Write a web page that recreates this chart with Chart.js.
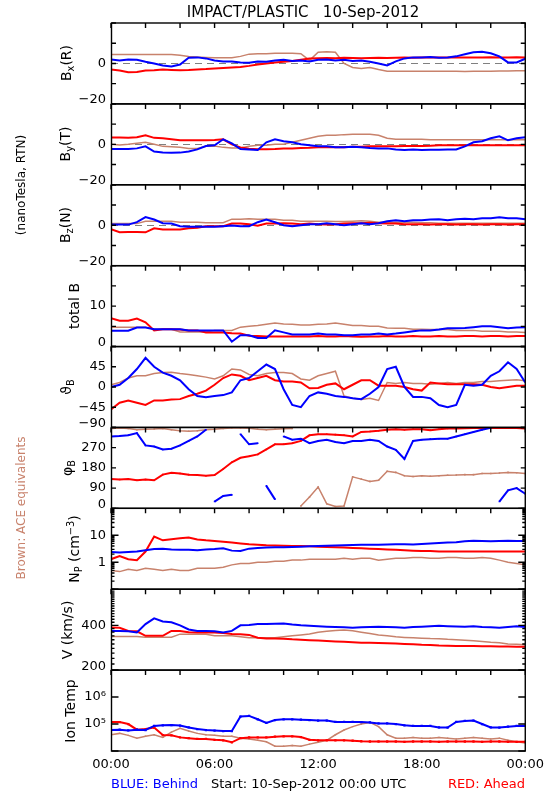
<!DOCTYPE html>
<html><head><meta charset="utf-8">
<script src="https://cdn.jsdelivr.net/npm/chart.js@4.4.1/dist/chart.umd.min.js"></script>
<style>
html,body{margin:0;padding:0;background:#fff;}
#wrap{position:relative;width:550px;height:800px;overflow:hidden;font-family:"DejaVu Sans",sans-serif;color:#000;}
canvas{position:absolute;left:0;top:0;}
.t{position:absolute;white-space:nowrap;line-height:1;}
.rot{transform:translate(-50%,-50%) rotate(-90deg);}
sub{font-size:70%;vertical-align:-0.3em;line-height:0;}
sup{font-size:70%;vertical-align:0.55em;line-height:0;}
</style></head><body>
<div id="wrap"><canvas id="c" width="550" height="800"></canvas></div>
<script>
// ---------------- DATA ----------------
const hours = [0,0.5,1,1.5,2,2.5,3,3.5,4,4.5,5,5.5,6,6.5,7,7.5,8,8.5,9,9.5,10,10.5,11,11.5,
  12,12.5,13,13.5,14,14.5,15,15.5,16,16.5,17,17.5,18,18.5,19,19.5,20,20.5,21,21.5,22,22.5,23,23.5,24];

const xTickHours = [0,2,4,6,8,10,12,14,16,18,20,22,24];
const xLabelHours = [0,6,12,18,24];
const xLabelText = ['00:00','06:00','12:00','18:00','00:00'];

// Bx (R)
const bxBlue = [2,1.5,2,1.8,0.8,0,-1,-1.5,-0.5,2.8,3,2.5,
  1.5,1,1,0.5,0.3,1,0.8,1.5,1.8,1.2,1.5,1,
  1.8,2,1.5,1.8,1.2,1.5,0.8,0,-1,1,2.5,3,
  3,3.2,2.8,3,3.5,4.5,5.5,5.8,5,3.5,0.5,0.5, 2.3];
const bxRed = [-3,-3.5,-4.3,-4.2,-3.5,-3.4,-3,-3.2,-3.4,-3.3,-3,-2.8,
  -2.5,-2.2,-2,-1.8,-1.2,-0.5,0,0.5,0.8,1.2,1.8,2.4,
  2.6,2.7,2.6,2.8,2.7,2.6,2.7,2.8,2.7,2.8,2.9,2.8,
  2.9,3,2.9,3,3,2.9,3,3,3.1,3,3,3.1, 3];
const bxBrown = [4.4,4.4,4.4,4.4,4.4,4.4,4.4,4.4,4,3.4,3.2,3,
  2.8,2.8,2.8,3.5,4.6,4.8,4.8,5,5,5,4.8,1.5,
  5.5,5.8,5.5,0,-2,-2.5,-2,-3,-3.8,-3.9,-3.9,-3.8,
  -3.9,-3.9,-3.8,-3.9,-3.9,-4,-3.9,-3.9,-3.8,-3.7,-3.7,-3.6, -3.6];

// By (T)
const byBlue = [-2.3,-2.3,-2.3,-2,-1,-3.6,-4,-4.2,-4.1,-3.5,-2.5,-0.8,
  -0.5,2.5,0.5,-2.3,-2.5,-2.8,1,2.5,1.5,1,0,-0.5,
  -1,-1,-1.5,-1.5,-1.2,-1.5,-1.8,-2,-2,-2.5,-2.8,-2.5,
  -2.8,-2.7,-2.7,-2.5,-2.5,-1,1,1.5,3,4,2,3, 3.5];
const byRed = [3.4,3.4,3.3,3.5,4.5,3.2,3,2.5,2,2,2,2,
  2.2,2.5,0,-1.5,-2.2,-2.4,-2.4,-2.3,-2,-2,-1.8,-1.7,
  -1.5,-1.5,-1.5,-1.4,-1.2,-1.2,-1,-1,-1,-1,-0.8,-0.8,
  -0.8,-0.7,-0.5,-0.5,-0.5,-0.5,-0.5,-0.5,-0.5,-0.5,-0.5,-0.5, -0.5];
const byBrown = [0,-0.3,0,0.5,1,0,-1,-1.2,-1.5,-2,-2,-1,
  -0.8,-1.5,-1.8,-1.8,-1,-0.5,-0.5,0,0,1,2,3,
  4,4.5,4.5,4.8,5,5,5,4.5,3,2.5,2.5,2.5,
  2.5,2.3,2.3,2.3,2.3,2.3,2.3,2.3,2.3,2.3,2.3,2.3, 2.3];

// Bz (N)
const bzBlue = [0.3,0.3,0.3,1.5,4,2.8,1,0.8,-0.5,-0.8,-0.8,-0.8,
  -0.8,-0.5,-0.2,-0.5,-0.5,1.5,2.8,1.5,0,-0.5,0,0.5,
  0.5,1,0.5,0,0.5,1,0.5,1,2,2.5,2,2.5,
  2.5,2.8,3,2.5,3,3.2,3,3.5,3.5,4,3.5,3.5, 3];
const bzRed = [-2,-3.5,-3.3,-3.3,-3.5,-1.5,-2.1,-2.1,-2.1,-1.5,-1.3,-0.5,
  -0.5,-0.5,0.8,0.8,0.5,-0.2,0.8,0.8,1,0.8,0.5,0.8,
  0.5,0.3,0.5,0.8,1,1,1.2,1,0.8,0.8,0.5,0.5,
  0.5,0.3,0.5,0.5,0.3,0.5,0.5,0.3,0.5,0.5,0.3,0.5, 0.5];
const bzBrown = [0.8,0.8,0.8,0.8,2,2,2,2,1.5,1.5,1.5,1.2,
  1.2,1.2,3,3,3.2,3,3,3,2.5,2.5,2,2,
  2,2,1.8,1.8,2,2.2,2,1.5,1.5,1.5,1.5,1.5,
  1.2,1.2,1,1,1,1,1,1,1,1,1,1, 1];

// total B
const btBlue = [3.9,3.9,3.9,4.7,4.7,4.3,4.3,4.3,4.3,4,4,4,
  4,4,1.2,2.8,2.8,2.1,2.1,4,3.5,3,3,3,
  3.2,3,3,2.8,2.8,3,3,3.2,3,3.2,3.5,3.8,
  4,4,4.2,4.5,4.5,4.6,4.8,5,5,4.8,4.5,4.7, 4.8];
const btRed = [7,6.4,6.4,6.9,6,4,4.3,4.3,4.2,4,4,3.5,
  3.5,3.5,3.3,3.2,2.7,2.6,2.5,2.5,2.5,2.5,2.5,2.5,
  2.6,2.5,2.5,2.6,2.5,2.4,2.5,2.5,2.6,2.5,2.5,2.6,
  2.5,2.5,2.6,2.5,2.5,2.6,2.6,2.5,2.6,2.6,2.5,2.6, 2.6];
const btBrown = [4.8,4.8,4.8,4.8,4.8,4.3,4.3,4.3,3.6,3.6,3.6,3.6,
  4,4,4,4.8,5,5.2,5.5,5.8,5.6,5.5,5.3,5.3,
  5.5,5.6,5.8,5.5,5.2,5.2,5,5,4.6,4.5,4.5,4.3,
  4.3,4.2,4.2,4.2,4,4,4,3.8,3.8,3.8,3.6,3.6, 3.5];

// theta B
const thBlue = [0,5,20,40,65,45,32,25,15,-5,-20,-23,
  -20,-18,-12,15,20,35,50,40,-5,-40,-45,-20,
  -12,-15,-20,-22,-25,-27,-15,0,40,45,0,-22,
  -22,-25,-40,-45,-40,5,3,5,25,35,55,40, 10];
const thRed = [-50,-35,-30,-35,-40,-30,-30,-28,-27,-20,-15,-8,
  5,20,28,25,15,20,25,15,12,12,10,-3,
  -2,5,8,-5,5,15,15,3,3,3,0,-5,
  -8,10,8,6,6,6,6,5,0,-3,0,3, 3];
const thBrown = [5,10,20,25,25,30,32,33,30,28,25,22,
  18,25,40,38,28,25,30,32,32,30,18,15,
  25,30,35,-20,-25,-28,-25,-30,10,8,10,8,
  8,6,8,10,8,10,10,12,12,14,15,16, 14];

// phi B
const phBlue = [320,322,325,335,280,275,262,265,280,300,320,350,
  30,55,60,330,285,290,100,40,320,305,310,290,
  300,305,295,290,300,300,305,300,275,260,220,300,
  305,308,310,310,320,330,340,350,358,30,80,90, 65];
const phRed = [130,128,130,125,128,125,150,158,155,150,148,145,
  148,175,205,225,232,240,262,285,285,290,300,325,
  330,330,328,325,320,340,342,345,350,352,350,352,
  352,348,352,355,355,356,357,357,358,358,358,358, 355];
const phBrown = [355,357,355,350,352,353,355,350,345,343,345,350,
  352,355,358,358,356,352,350,352,354,355,10,50,
  95,20,8,10,140,130,120,125,165,160,145,142,
  145,143,145,147,148,150,150,155,155,157,160,158, 155];

// N_P (cm^-3)
const npBlue = [2.4,2.3,2.4,2.5,2.8,3.1,3.2,3.0,2.9,2.9,2.8,3.0,
  3.1,3.3,2.7,2.6,3.2,3.4,3.5,3.6,3.6,3.7,3.8,3.9,
  4.0,4.1,4.2,4.3,4.4,4.5,4.5,4.5,4.6,4.7,4.7,4.6,
  4.8,5.0,5.2,5.4,5.5,6.0,6.3,6.2,6.0,6.1,6.3,6.2, 6.2];
const npRed = [1.3,1.7,1.3,1.2,2.5,9.0,6.5,7.2,7.8,8.3,7.0,6.5,
  6.2,5.8,5.4,5.0,4.7,4.5,4.3,4.2,4.1,4.0,4.0,3.9,
  3.8,3.7,3.6,3.5,3.4,3.3,3.2,3.1,3.0,2.9,2.8,2.7,
  2.6,2.6,2.5,2.5,2.5,2.5,2.5,2.5,2.5,2.5,2.5,2.5, 2.5];
const npBrown = [0.5,0.45,0.55,0.5,0.6,0.55,0.5,0.55,0.5,0.5,0.6,0.6,
  0.6,0.65,0.8,0.9,0.9,1.0,1.0,1.1,1.1,1.2,1.2,1.3,
  1.3,1.3,1.3,1.4,1.3,1.4,1.4,1.2,1.3,1.4,1.4,1.5,
  1.5,1.4,1.4,1.5,1.5,1.4,1.4,1.5,1.4,1.2,1.0,0.9, 0.8];

// V (km/s)
const vBlue = [367,367,365,358,408,446,425,420,400,375,367,367,
  365,358,367,400,402,408,408,410,412,405,400,398,
  395,392,390,388,385,388,390,392,390,388,385,390,
  392,395,397,395,393,392,395,390,388,385,390,395, 390];
const vRed = [387,385,367,365,340,340,340,367,367,360,358,358,
  358,355,350,349,345,330,326,326,325,322,320,318,
  316,314,312,310,308,306,305,304,303,302,300,298,
  296,295,293,292,291,290,290,289,289,288,288,287, 287];
const vBrown = [337,337,337,337,333,333,333,333,349,349,349,349,
  340,340,340,335,330,330,330,330,335,340,345,350,
  360,365,370,372,368,360,352,345,340,335,332,330,
  328,326,325,322,320,318,315,312,308,305,300,298, 296];

// Ion Temp (K)
const tiBlue = [60000,62000,58000,62000,60000,85000,90000,92000,88000,75000,65000,60000,
  57000,55000,55000,190000,200000,150000,110000,140000,150000,150000,145000,140000,
  135000,135000,120000,120000,120000,118000,115000,105000,105000,100000,90000,85000,
  85000,85000,75000,74000,120000,130000,135000,100000,75000,74000,80000,85000, 85000];
const tiRed = [120000,118000,100000,62000,65000,74000,39000,38000,32000,30000,28000,28000,
  26000,25000,21000,30000,32000,32000,32000,34000,35000,35000,33000,26000,
  25000,25000,25000,25000,24000,23000,22500,22500,22500,22500,22000,22500,
  22500,22500,22000,22500,22500,22500,22500,22000,22500,22500,22000,22000, 22000];
const tiBrown = [40000,45000,38000,30000,35000,40000,32000,50000,70000,55000,45000,40000,
  38000,35000,35000,30000,28000,25000,22000,15000,15000,16000,15000,18000,
  21000,25000,40000,60000,80000,100000,115000,80000,40000,30000,30000,32000,
  30000,30000,32000,30000,28000,30000,32000,30000,28000,30000,25000,22000, 20000];

// axis ticks and labels
const bTicks = [-20,-10,0,10,20];
const bLabelVals = [-20,0];
const bLabelText = ['\u221220','0'];
const btTicks = [0,5,10,15,20];
const btLabelVals = [0,10];
const btLabelText = ['0','10'];
const thTicks = [-90,-45,0,45,90];
const thLabelVals = [-90,-45,0,45];
const thLabelText = ['\u221290','\u221245','0','45'];
const phTicks = [0,90,180,270,360];
const phLabelVals = [0,90,180,270];
const phLabelText = ['0','90','180','270'];
const npTicks = [0.1,0.2,0.3,0.4,0.5,0.6,0.7,0.8,0.9,1,2,3,4,5,6,7,8,9,10,20,30,40,50,60,70,80,90,100];
const npMajor = [0.1,1,10,100];
const npLabelVals = [1,10];
const npLabelText = ['1','10'];
const vTicks = [200,220,240,260,280,300,320,340,360,380,400,420,440,460,480,500,520,540,560,580,600,620,640,660,680,700];
const vMajor = [200,400];
const vLabelVals = [200,400];
const vLabelText = ['200','400'];
const tiTicks = [1e4,1e5,1e6,1e7];
const tiMajor = [1e4,1e5,1e6,1e7];
const tiLabelVals = [1e5,1e6];
const tiLabelText = ['10\u2075','10\u2076'];

// ---------------- PANELS ----------------
const BLUE = '#0000ff', RED = '#ff0000', BROWN = '#c8826c';
const panelIds = ['bx','by','bz','bt','th','ph','np','v','ti'];
const panelTitles = ['B<sub>x</sub>(R)','B<sub>y</sub>(T)','B<sub>z</sub>(N)','total B',
  '\u03D1<sub>B</sub>','\u03C6<sub>B</sub>','N<sub>P</sub> (cm<sup>\u22123</sup>)','V (km/s)','Ion Temp'];
const panelTitleX = [66,65,65,74,66,67,74,67,70];
const panelLog = [false,false,false,false,false,false,true,true,true];
const panelMin = [-20,-20,-20,0,-90,0,0.1,200,1e4];
const panelMax = [20,20,20,20,90,360,100,700,1e7];
const panelTicks = [bTicks,bTicks,bTicks,btTicks,thTicks,phTicks,npTicks,vTicks,tiTicks];
const panelMajor = [[],[],[],[],[],[],npMajor,vMajor,tiMajor];
const panelLabelVals = [bLabelVals,bLabelVals,bLabelVals,btLabelVals,thLabelVals,phLabelVals,npLabelVals,vLabelVals,tiLabelVals];
const panelLabelText = [bLabelText,bLabelText,bLabelText,btLabelText,thLabelText,phLabelText,npLabelText,vLabelText,tiLabelText];
const panelSeries = [
  [bxBlue,bxRed,bxBrown],[byBlue,byRed,byBrown],[bzBlue,bzRed,bzBrown],
  [btBlue,btRed,btBrown],[thBlue,thRed,thBrown],[phBlue,phRed,phBrown],
  [npBlue,npRed,npBrown],[vBlue,vRed,vBrown],[tiBlue,tiRed,tiBrown]];
const zeroLinePanels = ['bx','by','bz'];

const FONT = 'DejaVu Sans';
const close = (a,b) => Math.abs(a-b) <= 1e-9*Math.max(1,Math.abs(a),Math.abs(b));

function toPoints(vals, wrap){
  const out = [];
  for (let i=0;i<hours.length;i++){
    if (wrap && i>0 && Math.abs(vals[i]-vals[i-1]) > 180) out.push({x:(hours[i]+hours[i-1])/2, y:null});
    out.push({x:hours[i], y:vals[i]});
  }
  return out;
}

const datasets = [];
panelIds.forEach((id,k)=>{
  const cols = [BLUE,RED,BROWN];
  panelSeries[k].forEach((vals,j)=>{
    const isTemp = id==='ti', isPhi = id==='ph';
    datasets.push({
      data: toPoints(vals, isPhi),
      yAxisID: id, xAxisID: 'x',
      borderColor: cols[j], backgroundColor: cols[j],
      borderWidth: j===2 ? 1.5 : 2,
      pointRadius: isTemp ? (j===2 ? 1 : 1.6) : (isPhi ? 1.1 : 0),
      pointStyle: 'rect',
      pointBorderWidth: 0,
      tension: 0, spanGaps: false
    });
  });
});

const scales = {
  x: {
    type:'linear', min:0, max:24, position:'bottom',
    grid:{display:false, drawTicks:false}, border:{display:false},
    afterBuildTicks: s => { s.ticks = xTickHours.map(v=>({value:v})); },
    afterFit: s => { s.height = 49; },
    ticks:{autoSkip:false, maxRotation:0, minRotation:0, padding:6, color:'#000',
      font:{family:FONT, size:13},
      callback: v => { const i = xLabelHours.findIndex(h=>close(h,v)); return i<0 ? '' : xLabelText[i]; }}
  }
};
panelIds.forEach((id,k)=>{
  const min = panelMin[k];
  scales[id] = {
    type: panelLog[k] ? 'logarithmic' : 'linear',
    position:'left', stack:'panels', stackWeight:1, weight: 9-k,
    min: min, max: panelMax[k],
    grid:{display:false, drawTicks:false}, border:{display:false},
    afterBuildTicks: s => {
      s.ticks = panelTicks[k].map(v=>({value:v, major: panelMajor[k].some(m=>close(m,v))}));
    },
    afterFit: s => { s.width = 111; },
    ticks:{
      autoSkip:false, padding:5, color:'#000',
      font: c => ({family:FONT, size:13, lineHeight: (c && c.tick && close(c.tick.value,min)) ? 0.58 : 1.2}),
      callback: v => {
        const i = panelLabelVals[k].findIndex(u=>close(u,v));
        if (i<0) return '';
        return close(v,min) ? [panelLabelText[k][i], ''] : panelLabelText[k][i];
      }
    }
  };
});

const framePlugin = {
  id:'frame',
  beforeDatasetsDraw(chart){
    const {ctx, chartArea:a} = chart;
    ctx.save();
    ctx.strokeStyle = '#808080'; ctx.lineWidth = 1.2; ctx.setLineDash([7,5]);
    zeroLinePanels.forEach(id=>{
      const y = Math.round(chart.scales[id].getPixelForValue(0))+0.5;
      ctx.beginPath(); ctx.moveTo(a.left,y); ctx.lineTo(a.right,y); ctx.stroke();
    });
    ctx.restore();
  },
  afterDatasetsDraw(chart){
    const {ctx, chartArea:a} = chart;
    const xs = chart.scales.x;
    ctx.save();
    ctx.strokeStyle = '#000'; ctx.lineWidth = 1.4; ctx.setLineDash([]);
    const L = a.left + 0.5, R = a.right;
    panelIds.forEach((id,k)=>{
      const s = chart.scales[id];
      ctx.strokeRect(L, s.top, R-L, s.bottom-s.top);
      ctx.beginPath();
      s.ticks.forEach(t=>{
        const y = s.getPixelForValue(t.value);
        const len = panelLog[k] ? (t.major ? 7 : 3) : 4.5;
        ctx.moveTo(L,y); ctx.lineTo(L+len,y);
        ctx.moveTo(R,y); ctx.lineTo(R-len,y);
      });
      xs.ticks.forEach(t=>{
        const x = xs.getPixelForValue(t.value);
        ctx.moveTo(x,s.top); ctx.lineTo(x,s.top+5);
      });
      ctx.stroke();
    });
    ctx.restore();
  }
};

const chart = new Chart(document.getElementById('c'), {
  type:'line',
  data:{datasets},
  options:{
    responsive:false, animation:false, devicePixelRatio:1, events:[],
    layout:{padding:{top:23, right:24, bottom:0, left:0}},
    plugins:{legend:{display:false}, tooltip:{enabled:false}},
    scales
  },
  plugins:[framePlugin]
});

// ---------------- TEXT ----------------
const wrap = document.getElementById('wrap');
function addText(html, css, cls){
  const d = document.createElement('div');
  d.className = 't ' + (cls||'');
  d.innerHTML = html;
  Object.assign(d.style, css);
  wrap.appendChild(d);
  return d;
}
addText('IMPACT/PLASTIC&nbsp;&nbsp;&nbsp;10-Sep-2012', {left:'303px', top:'5px', fontSize:'15px', transform:'translateX(-50%)'});
panelIds.forEach((id,k)=>{
  const s = chart.scales[id];
  addText(panelTitles[k], {left: panelTitleX[k]+'px', top: ((s.top+s.bottom)/2)+'px', fontSize:'14px'}, 'rot');
});
addText('(nanoTesla, RTN)', {left:'21px', top:'185px', fontSize:'12px'}, 'rot');
addText('Brown: ACE equivalents', {left:'21px', top:'508px', fontSize:'12px', color:BROWN}, 'rot');
addText('BLUE: Behind', {left:'111px', top:'777px', fontSize:'13px', color:BLUE});
addText('Start: 10-Sep-2012 00:00 UTC', {left:'211px', top:'777px', fontSize:'13px'});
addText('RED: Ahead', {right:'25px', top:'777px', fontSize:'13px', color:RED});
</script></body></html>
